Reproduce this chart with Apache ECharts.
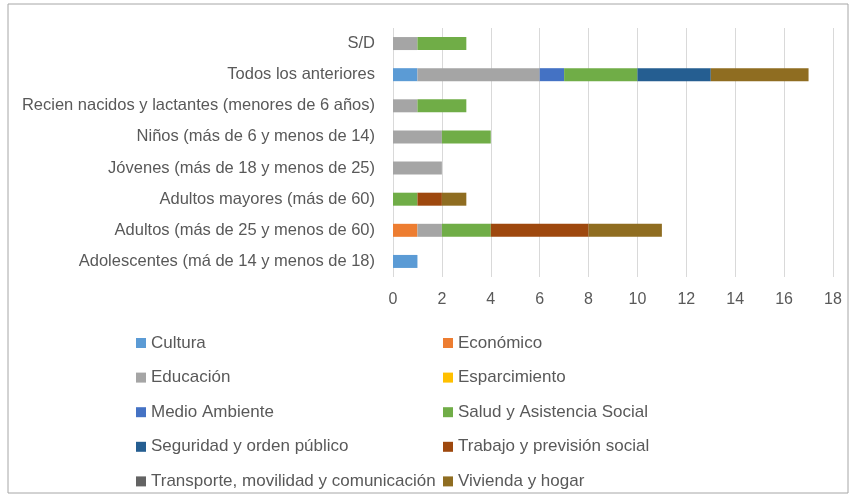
<html>
<head>
<meta charset="utf-8">
<script src="https://cdn.jsdelivr.net/npm/echarts@6/dist/echarts.min.js"></script>
</head>
<body style="margin:0">
	<div id="main" style="height: 497px; width: 854px;"></div>

	<script type="text/javascript">
		// grupos (de abajo hacia arriba)
		var grupos = [ 'Adolescentes (má de 14 y menos de 18)',
				'Adultos (más de 25 y menos de 60)',
				'Adultos mayores (más de 60)',
				'Jóvenes (más de 18 y menos de 25)',
				'Niños (más de 6 y menos de 14)',
				'Recien nacidos y lactantes (menores de 6 años)',
				'Todos los anteriores', 'S/D' ];

		var cultura       = [ 1, 0, 0, 0, 0, 0, 1, 0 ];
		var economico     = [ 0, 1, 0, 0, 0, 0, 0, 0 ];
		var educacion     = [ 0, 1, 0, 2, 2, 1, 5, 1 ];
		var esparcimiento = [ 0, 0, 0, 0, 0, 0, 0, 0 ];
		var medioAmbiente = [ 0, 0, 0, 0, 0, 0, 1, 0 ];
		var salud         = [ 0, 2, 1, 0, 2, 2, 3, 2 ];
		var seguridad     = [ 0, 0, 0, 0, 0, 0, 3, 0 ];
		var trabajo       = [ 0, 4, 1, 0, 0, 0, 0, 0 ];
		var transporte    = [ 0, 0, 0, 0, 0, 0, 0, 0 ];
		var vivienda      = [ 0, 3, 1, 0, 0, 0, 4, 0 ];

		var ejeX = [ 0, 2, 4, 6, 8, 10, 12, 14, 16, 18 ];

		var series = [
			[ 'Cultura', cultura, '#5B9BD5' ],
			[ 'Económico', economico, '#ED7D31' ],
			[ 'Educación', educacion, '#A5A5A5' ],
			[ 'Esparcimiento', esparcimiento, '#FFC000' ],
			[ 'Medio Ambiente', medioAmbiente, '#4472C4' ],
			[ 'Salud y Asistencia Social', salud, '#70AD47' ],
			[ 'Seguridad y orden público', seguridad, '#255E91' ],
			[ 'Trabajo y previsión social', trabajo, '#9E480E' ],
			[ 'Transporte, movilidad y comunicación', transporte, '#636363' ],
			[ 'Vivienda y hogar', vivienda, '#8F6D21' ] ];

		var fuente = 'Liberation Sans';
		var txt = {
			fontFamily : fuente,
			fontSize : 17,
			color : '#595959',
			lineHeight : 20
		};

		var col1 = [], col2 = [];
		for (var i = 0; i < series.length; i++) {
			if (i % 2 == 0) col1.push(series[i][0]);
			else col2.push(series[i][0]);
		}

		var myChart = echarts.init(document.getElementById('main'));
		var option = {
			animation : false,
			backgroundColor : '#fff',
			graphic : [ {
				type : 'rect',
				shape : { x : 8, y : 4, width : 840, height : 489 },
				style : { fill : 'none', stroke : '#A6A6A6', lineWidth : 1 },
				silent : true
			} ],
			grid : {
				left : 393,
				right : 21,
				top : 28,
				bottom : 220
			},
			legend : [ {
				orient : 'vertical',
				left : 131,
				top : 328,
				height : 200,
				icon : 'rect',
				itemWidth : 10,
				itemHeight : 10,
				itemGap : 14.6,
				textStyle : txt,
				data : col1
			}, {
				orient : 'vertical',
				left : 438,
				top : 328,
				height : 200,
				icon : 'rect',
				itemWidth : 10,
				itemHeight : 10,
				itemGap : 14.6,
				textStyle : txt,
				data : col2
			} ],
			xAxis : {
				type : 'value',
				min : ejeX[0],
				max : ejeX[ejeX.length - 1],
				interval : 2,
				axisLine : { show : false },
				axisTick : { show : false },
				splitLine : { lineStyle : { color : '#D9D9D9', width : 1 } },
				axisLabel : {
					fontFamily : fuente,
					fontSize : 16,
					color : '#595959',
					margin : 15
				}
			},
			yAxis : {
				type : 'category',
				data : grupos,
				axisLine : { show : false },
				axisTick : { show : false },
				axisLabel : {
					fontFamily : fuente,
					fontSize : 16.5,
					color : '#595959',
					margin : 18
				}
			},
			series : series.map(function(s) {
				return {
					name : s[0],
					type : 'bar',
					stack : 'total',
					barWidth : 13,
					itemStyle : { color : s[2] },
					data : s[1]
				};
			})
		};
		myChart.setOption(option);
	</script>
</body>
</html>
